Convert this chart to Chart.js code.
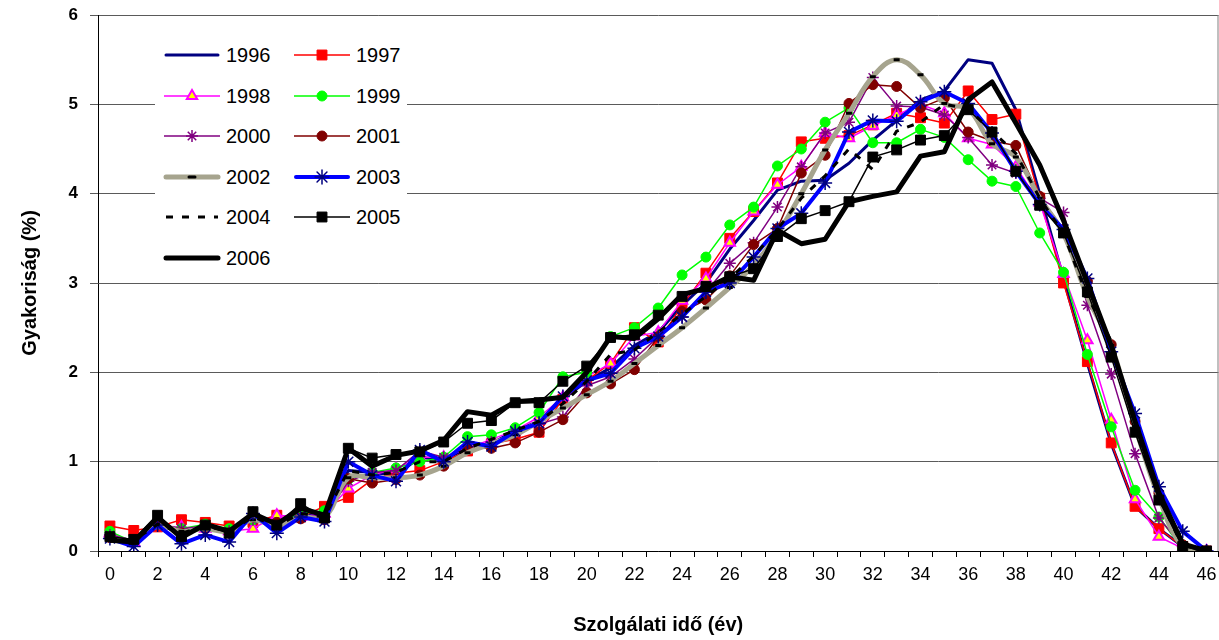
<!DOCTYPE html>
<html>
<head>
<meta charset="utf-8">
<script src="https://cdn.jsdelivr.net/npm/chart.js@4.4.1/dist/chart.umd.min.js"></script>
<style>
html, body { margin: 0; padding: 0; background: #fff; overflow: hidden; }
#wrap { position: relative; width: 1219px; height: 640px; overflow: hidden; }
#chart { position: absolute; left: 0; top: 0; }
#legend { position: absolute; left: 155px; top: 31px; width: 252px; height: 250px; background: #fff;
  font-family: "Liberation Sans", Arial, sans-serif; font-size: 20px; color: #000; }
.item { position: absolute; height: 24px; line-height: 24px; width: 120px; }
.item canvas { position: absolute; left: 0; top: 2px; }
.item span { position: absolute; left: 63px; top: 0; }
</style>
</head>
<body>
<div id="wrap">
  <canvas id="chart" width="1227" height="640"></canvas>
  <div id="legend"></div>
</div>
<script>
// szolgálati idő (év) - x categories
var ages = ['0','1','2','3','4','5','6','7','8','9','10','11','12','13','14','15','16','17','18','19','20',
  '21','22','23','24','25','26','27','28','29','30','31','32','33','34','35','36','37','38','39','40',
  '41','42','43','44','45','46'];

var y1996 = [0.15,0.12,0.30,0.20,0.28,0.22,0.38,0.30,0.42,0.40, 0.90,0.88,0.85,1.05,1.02,1.15,1.20,1.35,1.45,1.70,
  1.90,2.05,2.30,2.45,2.75,3.00,3.38,3.70,4.04,4.14, 4.15,4.34,4.60,4.82,5.05,5.15,5.50,5.46,4.94,4.00,
  3.05,2.10,1.20,0.50,0.25,0.05,0.00];
var y1997 = [0.28,0.23,0.27,0.35,0.32,0.28,0.32,0.40,0.38,0.50, 0.60,0.80,0.87,0.90,1.00,1.12,1.20,1.25,1.33,1.70,
  1.91,2.10,2.50,2.34,2.75,3.11,3.50,3.80,4.12,4.58, 4.62,4.65,4.77,4.90,4.85,4.79,5.15,4.83,4.89,3.95,
  3.00,2.12,1.21,0.50,0.25,0.05,0.00];
var y1998 = [0.20,0.10,0.28,0.27,0.25,0.22,0.25,0.40,0.38,0.42, 0.70,0.85,0.92,1.05,1.05,1.15,1.25,1.35,1.50,1.72,
  1.95,2.10,2.40,2.45,2.80,3.05,3.45,3.80,4.10,4.30, 4.68,4.62,4.76,4.88,5.00,4.90,4.62,4.55,4.30,3.90,
  3.10,2.36,1.47,0.58,0.16,0.03,0.00];
var y1999 = [0.22,0.10,0.30,0.25,0.30,0.25,0.35,0.32,0.42,0.45, 0.80,0.88,0.93,1.00,1.05,1.28,1.30,1.38,1.55,1.95,
  2.00,2.40,2.50,2.72,3.09,3.29,3.65,3.85,4.31,4.50, 4.80,4.96,4.57,4.57,4.72,4.63,4.38,4.14,4.08,3.56,
  3.12,2.20,1.39,0.68,0.38,0.02,0.00];
var y2000 = [0.18,0.12,0.30,0.25,0.28,0.22,0.35,0.30,0.40,0.38, 0.78,0.88,0.90,1.12,1.05,1.15,1.22,1.32,1.42,1.50,
  1.85,1.95,2.15,2.40,2.62,2.90,3.22,3.45,3.85,4.30, 4.68,4.80,5.30,4.98,4.97,4.88,4.63,4.32,4.23,3.95,
  3.79,2.75,1.98,1.09,0.37,0.05,0.00];
var y2001 = [0.15,0.10,0.30,0.20,0.25,0.20,0.38,0.32,0.36,0.35, 0.81,0.76,0.80,0.85,0.95,1.15,1.15,1.21,1.33,1.47,
  1.77,1.87,2.03,2.40,2.68,2.81,3.08,3.43,3.61,4.23, 4.43,5.01,5.22,5.20,4.96,5.07,4.69,4.59,4.54,3.97,
  3.60,3.02,2.31,1.45,0.65,0.07,0.00];
var y2002 = [0.15,0.10,0.28,0.22,0.25,0.22,0.35,0.28,0.38,0.38, 0.82,0.82,0.82,0.85,0.95,1.10,1.20,1.30,1.45,1.60,
  1.75,1.90,2.10,2.30,2.50,2.72,2.95,3.20,3.55,4.00, 4.49,4.90,5.31,5.50,5.33,5.01,4.95,4.56,4.41,3.95,
  3.55,2.85,2.30,1.40,0.60,0.05,0.00];
var y2003 = [0.14,0.05,0.29,0.08,0.18,0.10,0.42,0.20,0.38,0.33, 1.00,0.85,0.78,1.13,1.00,1.22,1.17,1.34,1.43,1.73,
  1.91,1.99,2.27,2.40,2.62,2.90,3.00,3.29,3.61,3.78, 4.12,4.69,4.82,4.81,5.03,5.14,5.01,4.68,4.25,3.88,
  3.60,3.05,2.23,1.54,0.72,0.22,0.00];
var y2004 = [0.15,0.12,0.30,0.20,0.28,0.22,0.38,0.28,0.42,0.38, 0.90,0.85,0.88,1.00,1.00,1.15,1.25,1.35,1.45,1.65,
  1.90,2.20,2.25,2.45,2.65,2.85,3.05,3.30,3.60,3.95, 4.20,4.50,4.27,4.70,4.80,5.00,4.95,4.70,4.45,3.95,
  3.55,2.85,2.35,1.40,0.60,0.05,0.00];
var y2005 = [0.16,0.13,0.40,0.16,0.29,0.20,0.44,0.29,0.53,0.37, 1.15,1.04,1.08,1.11,1.22,1.43,1.46,1.66,1.66,1.90,
  2.07,2.39,2.42,2.64,2.85,2.96,3.07,3.16,3.52,3.72, 3.81,3.91,4.41,4.49,4.60,4.65,4.94,4.69,4.25,3.87,
  3.56,2.90,2.17,1.33,0.57,0.05,0.00];
var y2006 = [0.12,0.10,0.38,0.15,0.30,0.22,0.42,0.30,0.48,0.40, 1.15,0.95,1.07,1.12,1.24,1.56,1.52,1.67,1.69,1.72,
  2.00,2.40,2.38,2.60,2.87,2.94,3.07,3.03,3.59,3.44, 3.49,3.91,3.97,4.02,4.42,4.47,5.05,5.25,4.79,4.32,
  3.70,3.00,2.30,1.45,0.65,0.08,0.00];

var font = '"Liberation Sans", Arial, sans-serif';

var datasets = [
  { label: '1996', data: y1996, borderColor: '#000080', borderWidth: 3, pointRadius: 0 },
  { label: '1997', data: y1997, borderColor: '#FF0000', borderWidth: 1.5, pointStyle: 'rect', pointRadius: 7,
    pointBackgroundColor: '#FF0000', pointBorderColor: '#FF0000', pointBorderWidth: 1 },
  { label: '1998', data: y1998, borderColor: '#FF00FF', borderWidth: 1.5, pointStyle: 'triangle', pointRadius: 6,
    pointBackgroundColor: '#FFFF00', pointBorderColor: '#FF00FF', pointBorderWidth: 2 },
  { label: '1999', data: y1999, borderColor: '#00FF00', borderWidth: 1.5, pointStyle: 'circle', pointRadius: 5,
    pointBackgroundColor: '#00FF00', pointBorderColor: '#00FF00', pointBorderWidth: 1 },
  { label: '2000', data: y2000, borderColor: '#800080', borderWidth: 1.5, pointStyle: 'star', pointRadius: 6,
    pointBackgroundColor: '#800080', pointBorderColor: '#800080', pointBorderWidth: 1.5 },
  { label: '2001', data: y2001, borderColor: '#800000', borderWidth: 1.5, pointStyle: 'circle', pointRadius: 5,
    pointBackgroundColor: '#800000', pointBorderColor: '#800000', pointBorderWidth: 1 },
  { label: '2002', data: y2002, borderColor: '#A6A48E', borderWidth: 5, tension: 0.4, pointStyle: 'line', pointRadius: 3,
    pointBackgroundColor: '#000', pointBorderColor: '#000', pointBorderWidth: 3 },
  { label: '2003', data: y2003, borderColor: '#0000FF', borderWidth: 4, pointStyle: 'star', pointRadius: 7,
    pointBackgroundColor: '#000080', pointBorderColor: '#000080', pointBorderWidth: 1.5 },
  { label: '2004', data: y2004, borderColor: '#000000', borderWidth: 3, borderDash: [7, 9], pointRadius: 0 },
  { label: '2005', data: y2005, borderColor: '#000000', borderWidth: 1.5, pointStyle: 'rect', pointRadius: 7,
    pointBackgroundColor: '#000', pointBorderColor: '#000', pointBorderWidth: 1 },
  { label: '2006', data: y2006, borderColor: '#000000', borderWidth: 5, pointRadius: 0 }
];
// later series on top, like the original
datasets.forEach(function(d, i) {
  d.order = datasets.length - i;
  d.fill = false;
  d.tension = d.tension || 0;
  d.pointHoverRadius = d.pointRadius;
  d.borderJoinStyle = 'round';
});

var frame = {
  id: 'frame',
  beforeDatasetsDraw: function(chart) {
    var a = chart.chartArea, ctx = chart.ctx;
    ctx.save();
    ctx.strokeStyle = '#808080';
    ctx.lineWidth = 1;
    ctx.beginPath();
    ctx.moveTo(a.right - 0.5, a.top);
    ctx.lineTo(a.right - 0.5, a.bottom);
    ctx.stroke();
    ctx.restore();
  }
};

var chart = new Chart(document.getElementById('chart'), {
  type: 'line',
  data: { labels: ages, datasets: datasets },
  plugins: [frame],
  options: {
    responsive: false,
    animation: false,
    layout: { padding: { top: 15, right: 0, left: 0, bottom: 0 } },
    plugins: { legend: { display: false }, tooltip: { enabled: false } },
    scales: {
      x: {
        offset: true,
        afterFit: function(s) { s.height = 89; },
        grid: { display: true, drawOnChartArea: false, drawTicks: true, tickLength: 6, offset: true, color: '#000' },
        border: { color: '#000', width: 1 },
        ticks: {
          autoSkip: false, maxRotation: 0, padding: 7, color: '#000',
          font: { family: font, size: 18 },
          callback: function(v, i) { return i % 2 === 0 ? this.getLabelForValue(v) : ''; }
        },
        title: { display: true, text: 'Szolgálati idő (év)', color: '#000',
          font: { family: font, size: 20, weight: 'bold' }, padding: { top: 0, bottom: 3 } }
      },
      y: {
        min: 0, max: 6,
        afterFit: function(s) { s.width = 98; s.paddingTop = 0; s.paddingBottom = 0; },
        grid: { color: '#5a5a5a', tickLength: 8, drawTicks: true },
        border: { color: '#000', width: 1 },
        ticks: { stepSize: 1, padding: 12, color: '#000', font: { family: font, size: 17, weight: 'bold' } },
        title: { display: true, text: 'Gyakoriság (%)', color: '#000',
          font: { family: font, size: 20, weight: 'bold' }, padding: { top: 18, bottom: 0 } }
      }
    }
  }
});

// legend inside the plot, two columns
var legend = document.getElementById('legend');
datasets.forEach(function(ds, i) {
  var col = i % 2, row = Math.floor(i / 2);
  var item = document.createElement('div');
  item.className = 'item';
  item.style.left = (col === 0 ? 8 : 138) + 'px';
  item.style.top = (12 + row * 40.6) + 'px';
  var cv = document.createElement('canvas');
  cv.width = 58; cv.height = 20;
  item.appendChild(cv);
  var sp = document.createElement('span');
  sp.textContent = ds.label;
  item.appendChild(sp);
  legend.appendChild(item);

  var ctx = cv.getContext('2d');
  ctx.strokeStyle = ds.borderColor;
  ctx.lineWidth = ds.borderWidth;
  ctx.lineCap = ds.borderWidth >= 3 && !ds.borderDash ? 'round' : 'butt';
  ctx.setLineDash(ds.borderDash || []);
  ctx.beginPath();
  ctx.moveTo(ds.borderWidth >= 3 ? 3 : 1, 10);
  ctx.lineTo(ds.borderWidth >= 3 ? 55 : 57, 10);
  ctx.stroke();
  ctx.setLineDash([]);
  if (ds.pointRadius > 0) {
    ctx.fillStyle = ds.pointBackgroundColor;
    ctx.strokeStyle = ds.pointBorderColor;
    ctx.lineWidth = ds.pointBorderWidth;
    Chart.helpers.drawPoint(ctx, { pointStyle: ds.pointStyle, radius: ds.pointRadius, rotation: 0,
      borderWidth: ds.pointBorderWidth }, 29, 10);
  }
});
</script>
</body>
</html>
